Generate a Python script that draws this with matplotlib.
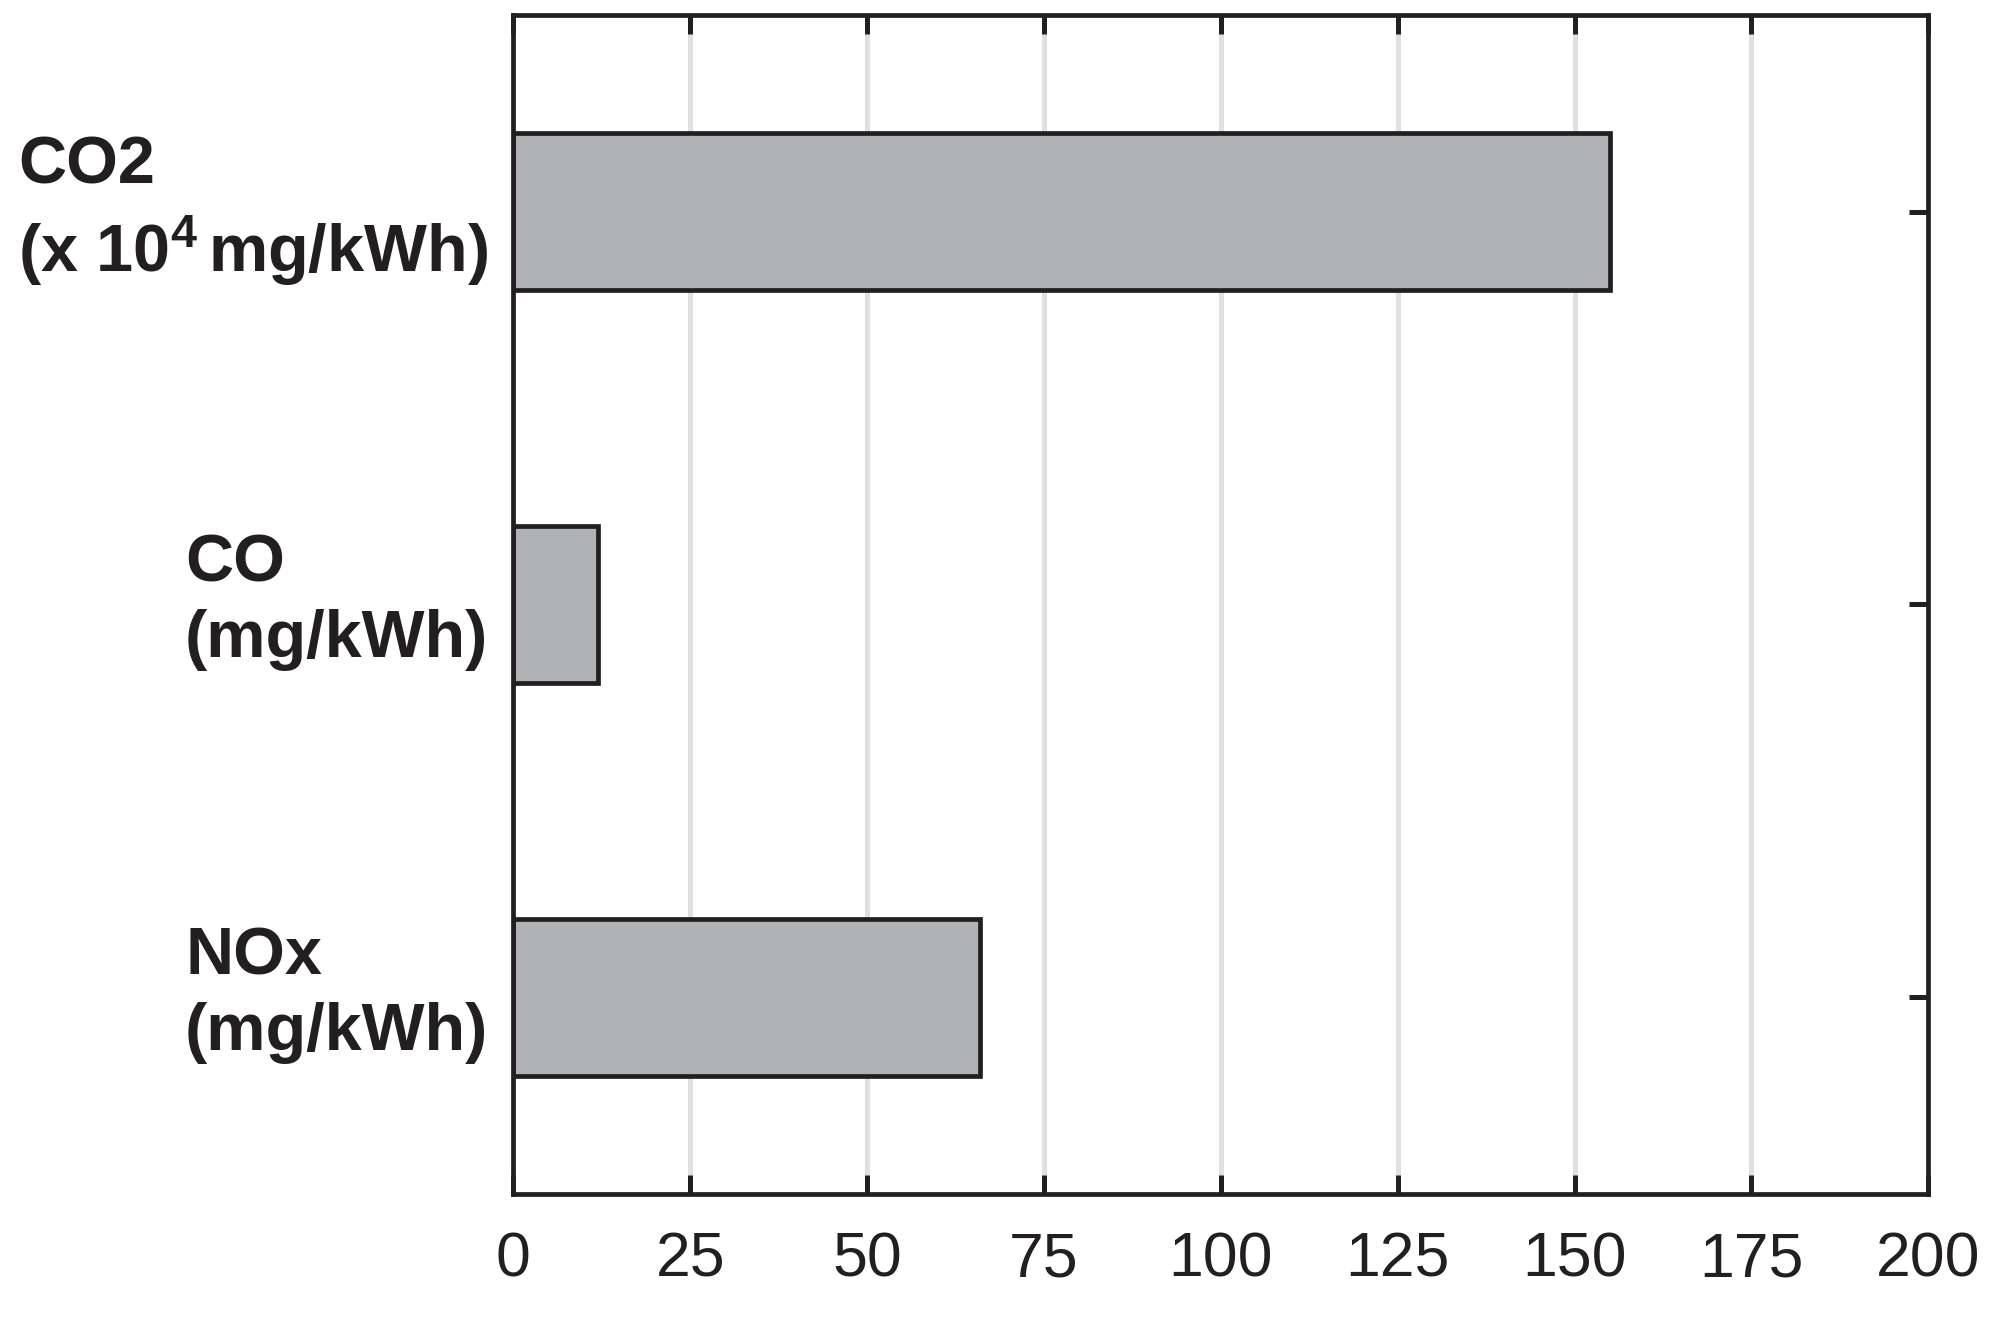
import numpy as np
import matplotlib.pyplot as plt
import matplotlib as mpl
from matplotlib.transforms import ScaledTranslation

mpl.rcParams.update({
    "font.family": ["Liberation Sans", "DejaVu Sans"],
    "mathtext.fontset": "custom",
    "mathtext.rm": "Liberation Sans:bold",
    "mathtext.bf": "Liberation Sans:bold",
    "mathtext.it": "Liberation Sans:bold",
    "text.color": "#231f20",
    "xtick.color": "#231f20", "ytick.color": "#231f20",
    "axes.edgecolor": "#231f20",
})

categories = ["CO2\n(x 10$^{4}\\,$mg/kWh)", "CO\n(mg/kWh)", "NOx\n(mg/kWh)"]
values = [155, 12, 66]
xticks = [0, 25, 50, 75, 100, 125, 150, 175, 200]

fig = plt.figure(figsize=(19.9, 13.19), dpi=100)
ax = fig.add_axes([0.258, 0.0948, 0.711, 0.8938])

pos = np.arange(1, len(values) + 1)
ax.barh(pos, values, height=0.4, color="#b1b2b6", edgecolor="#231f20",
        linewidth=3.4, zorder=3)

ax.set_xlim(0, 200)
ax.set_ylim(3.5, 0.5)
ax.set_xticks(xticks)
ax.set_xticklabels([str(t) for t in xticks], fontsize=45)
ax.set_yticks(pos)
ax.set_yticklabels(categories, fontsize=48, fontweight="bold", ha="right",
                   linespacing=1.28)

ax.grid(axis="x", color="#e0e0e2", linewidth=3.6, zorder=0)
ax.set_axisbelow(True)
ax.tick_params(direction="in", length=14, width=3.6, top=True, right=True)
ax.tick_params(axis="x", pad=26)
ax.tick_params(axis="y", pad=18)
for s in ax.spines.values():
    s.set_linewidth(3.4)
    s.set_zorder(4)

# nudge the two-line labels up a little (after tick_params, which resets transforms)
shift = ScaledTranslation(0, 0.16, fig.dpi_scale_trans)
for lbl in ax.get_yticklabels():
    lbl.set_multialignment("left")
    lbl.set_transform(lbl.get_transform() + shift)

fig.savefig("out.png", dpi=100)
